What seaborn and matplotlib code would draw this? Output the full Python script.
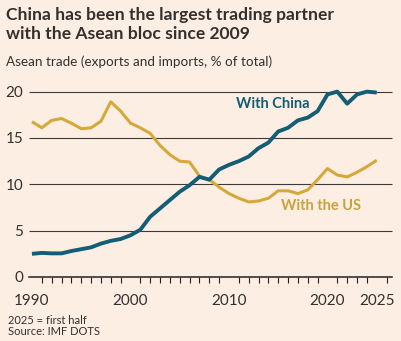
import matplotlib
matplotlib.use("Agg")
import matplotlib.pyplot as plt
import seaborn as sns
import pandas as pd
from matplotlib.ticker import MultipleLocator

years = list(range(1990, 2026))
china = [2.5, 2.6, 2.55, 2.55, 2.8, 3.0, 3.2, 3.6, 3.9, 4.1, 4.5, 5.1, 6.5, 7.4, 8.3, 9.2, 9.9, 10.8,
         10.5, 11.6, 12.1, 12.5, 13.0, 13.9, 14.5, 15.7, 16.1, 16.9, 17.2, 17.9, 19.7, 20.0, 18.7, 19.7, 20.0, 19.9]
us = [16.75, 16.1, 16.9, 17.1, 16.6, 16.0, 16.1, 16.8, 18.9, 17.9, 16.6, 16.1, 15.5, 14.2, 13.2, 12.5, 12.4, 10.9,
      10.5, 9.7, 9.0, 8.5, 8.1, 8.2, 8.5, 9.3, 9.3, 9.0, 9.4, 10.5, 11.7, 11.0, 10.8, 11.3, 11.9, 12.6]
xticks = [1990, 2000, 2010, 2020, 2025]
yticks = [0, 5, 10, 15, 20]

BG = "#FDEEE3"
BLUE = "#135E75"
GOLD = "#D4A93A"
TXT = "#33302E"

sns.set_theme(style="white")
plt.rcParams["font.family"] = ["Lato", "DejaVu Sans"]

df = pd.DataFrame({"year": years * 2, "value": china + us,
                   "series": ["With China"] * len(years) + ["With the US"] * len(years)})

fig = plt.figure(figsize=(4.02, 3.41), dpi=100, facecolor=BG)
ax = fig.add_axes([29 / 402, 1 - 277 / 341, (392 - 29) / 402, (277 - 87) / 341])
ax.set_facecolor(BG)

for yv in yticks[1:]:
    ax.axhline(yv, color="#3a3a3a", lw=0.8, zorder=1)

sns.lineplot(data=df, x="year", y="value", hue="series",
             palette={"With China": BLUE, "With the US": GOLD},
             hue_order=["With the US", "With China"],
             linewidth=2.2, legend=False, ax=ax, zorder=3)
for line in ax.get_lines():
    c = line.get_color()
    if isinstance(c, str) and c.lower() == BLUE.lower():
        line.set_linewidth(2.8)
    line.set_solid_capstyle("butt")
    line.set_clip_on(False)

ax.set_xlim(1989.7, 2026.55)
ax.set_ylim(0, 20.5)
for s in ["top", "right", "left"]:
    ax.spines[s].set_visible(False)
ax.spines["bottom"].set_color("#222222")
ax.spines["bottom"].set_linewidth(1.1)

ax.set_xticks(xticks)
ax.set_xticklabels([str(t) for t in xticks])
ax.xaxis.set_minor_locator(MultipleLocator(1))
ax.tick_params(axis="x", which="major", direction="out", length=7, width=1.0, color="#222222",
               labelsize=11, labelcolor=TXT, pad=5)
ax.tick_params(axis="x", which="minor", direction="out", length=4.5, width=0.8, color="#222222", bottom=True)
ax.set_yticks(yticks)
ax.set_yticklabels([str(t) for t in yticks])
ax.tick_params(axis="y", length=0, labelsize=11, labelcolor=TXT, pad=4)
ax.set_xlabel("")
ax.set_ylabel("")

ax.text(2014.4, 18.7, "With China", color=BLUE, fontsize=10.5, fontweight="bold", ha="center", va="center")
ax.text(2019.3, 7.7, "With the US", color="#C9A23E", fontsize=10.5, fontweight="bold", ha="center", va="center")

fig.text(6 / 402, 1 - 7 / 341, "China has been the largest trading partner\nwith the Asean bloc since 2009",
         fontsize=12.6, fontweight="bold", color=TXT, ha="left", va="top", linespacing=1.2)
fig.text(6 / 402, 1 - 62 / 341, "Asean trade (exports and imports, % of total)",
         fontsize=9.7, color=TXT, ha="left", va="center")
fig.text(8 / 402, 1 - 320.5 / 341, "2025 = first half", fontsize=8, color=TXT, ha="left", va="center")
fig.text(8 / 402, 1 - 331.5 / 341, "Source: IMF DOTS", fontsize=8, color=TXT, ha="left", va="center")

fig.savefig("out.png", dpi=100, facecolor=BG)
